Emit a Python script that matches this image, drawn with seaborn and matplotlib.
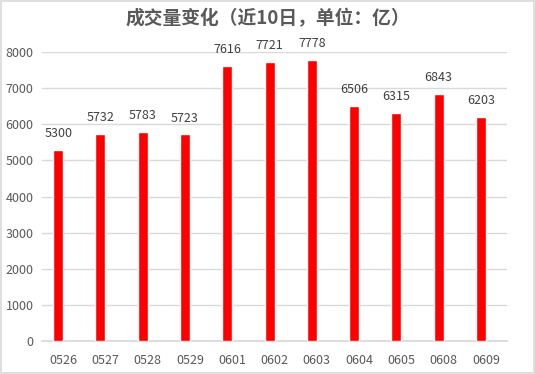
import matplotlib
matplotlib.use("Agg")
import matplotlib.pyplot as plt
import pandas as pd
import seaborn as sns

# ── Data ───────────────────────────────────────────────────────────────────
dates  = ["0526", "0527", "0528", "0529", "0601", "0602",
          "0603", "0604", "0605", "0608", "0609"]
volume = [5300, 5732, 5783, 5723, 7616, 7721, 7778, 6506, 6315, 6843, 6203]
yticks = [0, 1000, 2000, 3000, 4000, 5000, 6000, 7000, 8000]
title  = "成交量变化（近10日，单位：亿）"

df = pd.DataFrame({"date": dates, "volume": volume, "series": "成交量"})

sns.set_theme(style="white")
plt.rcParams["font.family"] = ["Noto Sans CJK SC", "DejaVu Sans"]

GRID = "#d9d9d9"
TXT  = "#595959"

fig = plt.figure(figsize=(5.35, 3.74), dpi=100)
ax = fig.add_axes([42 / 535, 1 - 341 / 374, 465 / 535, 289 / 374])

# second (empty) series slot reproduces the Excel left-shifted bars
sns.barplot(data=df, x="date", y="volume", hue="series",
            hue_order=["成交量", "empty"],
            palette={"成交量": "#ff0000", "empty": "#ff0000"},
            width=0.47, dodge=True, saturation=1, legend=False,
            ax=ax, zorder=3)

for bar in ax.patches:
    h = bar.get_height()
    if h != h or h == 0:
        continue
    ax.annotate(f"{h:.0f}", (bar.get_x() + bar.get_width() / 2, h),
                xytext=(0, 7), textcoords="offset points",
                ha="center", va="bottom", fontsize=9, color="#404040",
                annotation_clip=False)

ax.set_ylim(0, 8000)
ax.set_yticks(yticks)
ax.set_xlim(-0.5, len(dates) - 0.5)
ax.yaxis.grid(True, color=GRID, linewidth=1, zorder=0)
ax.set_xlabel("")
ax.set_ylabel("")
for s in ["top", "right", "left"]:
    ax.spines[s].set_visible(False)
ax.spines["bottom"].set_color(GRID)
ax.tick_params(axis="both", length=0, labelsize=9, colors=TXT, pad=9)
ax.tick_params(axis="y", pad=6)

fig.text(0.5, 1 - 19 / 374, title, ha="center", va="center",
         fontsize=13.5, fontweight="bold", color=TXT)

fig.patches.append(plt.Rectangle((0.002, 0.003), 0.996, 0.994,
                                 transform=fig.transFigure, fill=False,
                                 edgecolor=GRID, linewidth=1.2))

fig.savefig("out.png", dpi=100)
